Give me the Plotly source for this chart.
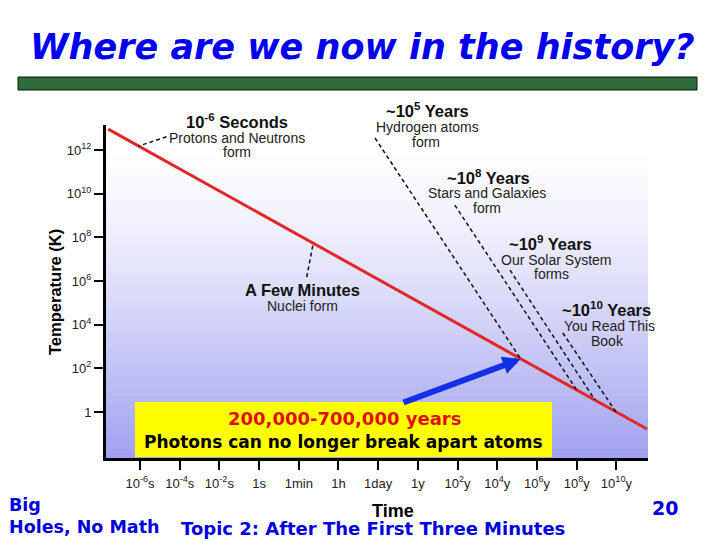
import plotly.graph_objects as go

# ---------------- data ----------------
time_ticks = ["10<sup>-6</sup>s", "10<sup>-4</sup>s", "10<sup>-2</sup>s", "1s", "1min", "1h",
              "1day", "1y", "10<sup>2</sup>y", "10<sup>4</sup>y", "10<sup>6</sup>y",
              "10<sup>8</sup>y", "10<sup>10</sup>y"]
time_pos = list(range(len(time_ticks)))
temp_vals = [1, 1e2, 1e4, 1e6, 1e8, 1e10, 1e12]
temp_ticks = ["1", "10<sup>2</sup>", "10<sup>4</sup>", "10<sup>6</sup>", "10<sup>8</sup>",
              "10<sup>10</sup>", "10<sup>12</sup>"]

# cooling of the universe (tick-index on time axis, temperature in K)
cool_t = [-0.8, 12.77]
cool_T = [9.1e12, 0.166]

# leader lines: (label end) -> (point on the cooling line)
leader_names = ["protons", "minutes", "hydrogen", "stars", "solar", "book"]
leader_t0 = [0.67, 4.20, 5.92, 7.93, 9.32, 10.65]
leader_T0 = [4.07e12, 1.51e6, 3.55e12, 3.0e9, 3.16e6, 4170]
leader_t1 = [-0.04, 4.36, 9.59, 11.00, 11.46, 11.99]
leader_T1 = [1.51e12, 5.0e7, 269, 10.2, 3.55, 1.0]

# recombination arrow (tail -> tip)
arrow_t = [6.60, 9.59]
arrow_logT = [0.41, 2.43]

# ---------------- layout geometry ----------------
OFF = 8                      # page body margin
W, H = 720 - OFF, 540 - OFF  # figure size
# plot area in page pixels
PL, PR, PT, PB = 106, 648, 125, 458
L, R, T, B = PL - OFF, PR - OFF, PT - OFF, PB - OFF
PW, PH = R - L, B - T


def px(x):
    return (x - OFF - L) / PW


def py(y):
    return (B - (y - OFF)) / PH


fig = go.Figure()

# cooling line
fig.add_trace(go.Scatter(x=cool_t, y=cool_T, mode="lines",
                         line=dict(color="#e02828", width=3), hoverinfo="skip"))

# dashed leaders
for i in range(len(leader_names)):
    fig.add_trace(go.Scatter(x=[leader_t0[i], leader_t1[i]], y=[leader_T0[i], leader_T1[i]],
                             mode="lines", line=dict(color="#111111", width=1.5, dash="4px,3px"),
                             hoverinfo="skip"))

shapes = []
# gradient background
n = 70
for k in range(n):
    u = (k + 0.5) / n
    f = max(0.0, 1 - u / 0.925) ** 1.3
    r = int(round(255 - 95 * f))
    g = int(round(255 - 95 * f))
    b = int(round(255 - 15 * f))
    shapes.append(dict(type="rect", xref="paper", yref="paper", x0=0, x1=1,
                       y0=k / n, y1=(k + 1) / n + 0.003, fillcolor=f"rgb({r},{g},{b})",
                       line=dict(width=0), layer="below"))
# yellow box
shapes.append(dict(type="rect", xref="paper", yref="paper", x0=px(135), x1=px(552),
                   y0=py(457), y1=py(402), fillcolor="#ffff00", line=dict(width=0), layer="above"))
# green bar
shapes.append(dict(type="rect", xref="paper", yref="paper", x0=px(18), x1=px(697),
                   y0=py(90), y1=py(77), fillcolor="#2f6b3b", line=dict(color="#0a1a0a", width=1),
                   layer="above"))

ann = []


def text(s, x, y, size, color="#111111", family="Liberation Sans, Arial, sans-serif",
         xanchor="center", angle=0):
    ann.append(dict(text=s, xref="paper", yref="paper", x=px(x), y=py(y), xanchor=xanchor,
                    yanchor="middle", showarrow=False, textangle=angle,
                    font=dict(size=size, color=color, family=family)))


comic = "DejaVu Sans, sans-serif"
# title
text("<b><i>Where are we now in the history?</i></b>", 362, 47, 35, "#0000ee", comic)

# event labels
BS, RS = 16.5, 14
text("<b>10<sup>-6</sup> Seconds</b>", 237, 121, BS)
text("Protons and Neutrons", 237, 138, RS, "#222222")
text("form", 237, 152, RS, "#222222")
text("<b>~10<sup>5</sup> Years</b>", 427, 110, BS)
text("Hydrogen atoms", 427, 127, RS, "#222222")
text("form", 426, 142, RS, "#222222")
text("<b>~10<sup>8</sup> Years</b>", 488, 177, BS)
text("Stars and Galaxies", 487, 193, RS, "#222222")
text("form", 487, 208, RS, "#222222")
text("<b>~10<sup>9</sup> Years</b>", 550, 243, BS)
text("Our Solar System", 556, 260, RS, "#222222")
text("forms", 551, 274, RS, "#222222")
text("<b>A Few Minutes</b>", 302, 290, BS)
text("Nuclei form", 302, 306, RS, "#222222")
text("<b>~10<sup>10</sup> Years</b>", 606, 309, BS)
text("You Read This", 609, 326, RS, "#222222")
text("Book", 607, 341, RS, "#222222")

# yellow box text
text("<b>200,000-700,000 years</b>", 344, 418, 18, "#e01010", comic)
text("<b>Photons can no longer break apart atoms</b>", 343, 442, 17, "#000000", comic)

# axis titles
text("<b>Time</b>", 393, 511, 18, "#000000")
text("<b>Temperature (K)</b>", 55, 292, 16.5, "#000000", angle=-90)

# footer
text("<b>Big</b>", 7, 505, 17.5, "#0000dd", comic, xanchor="left")
text("<b>Holes, No Math</b>", 7, 527, 17.5, "#0000dd", comic, xanchor="left")
text("<b>Topic 2: After The First Three Minutes</b>", 179, 528, 18, "#0000dd", comic, xanchor="left")
text("<b>20</b>", 665, 508, 19, "#0000dd", comic)

# arrow
ann.append(dict(x=arrow_t[1], y=arrow_logT[1], ax=arrow_t[0], ay=arrow_logT[0],
                xref="x", yref="y", axref="x", ayref="y", text="", showarrow=True,
                arrowhead=2, arrowsize=0.6, arrowwidth=6, arrowcolor="#1430e6", standoff=0))

tickfont = dict(size=13, color="#222222", family="Liberation Sans, Arial, sans-serif")
fig.update_layout(
    width=W, height=H,
    margin=dict(l=L, r=W - R, t=T, b=H - B),
    paper_bgcolor="white", plot_bgcolor="rgba(0,0,0,0)",
    showlegend=False, shapes=shapes, annotations=ann,
    xaxis=dict(range=[-0.856, 12.796], tickvals=time_pos, ticktext=time_ticks,
               showline=True, linecolor="black", linewidth=3, ticks="outside", ticklen=9,
               tickwidth=2, tickcolor="black", showgrid=False, zeroline=False, tickfont=tickfont,
               ticklabelstandoff=2),
    yaxis=dict(type="log", range=[-2.107, 13.147], tickvals=temp_vals, ticktext=temp_ticks,
               showline=True, linecolor="black", linewidth=3, ticks="outside", ticklen=9,
               tickwidth=2, tickcolor="black", showgrid=False, zeroline=False, tickfont=tickfont),
)

fig.write_html("out.html")
